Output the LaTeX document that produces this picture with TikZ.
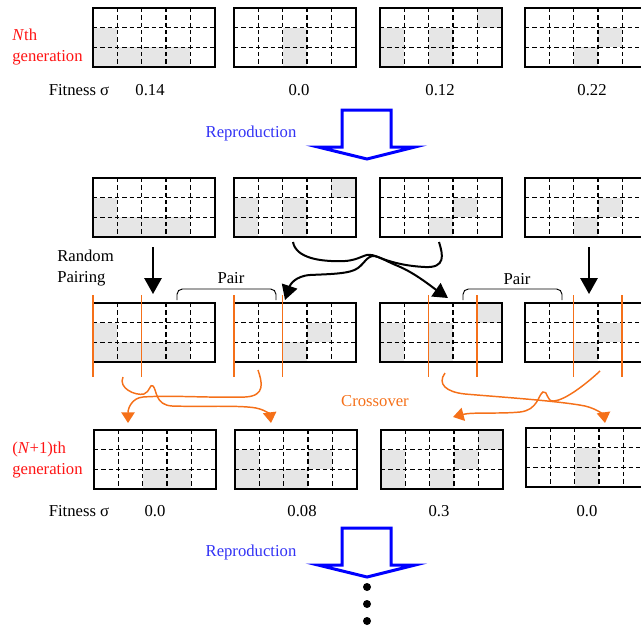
\documentclass[tikz,border=0pt]{standalone}
\usepackage{fontspec}
\setmainfont{Liberation Serif}
\usetikzlibrary{arrows.meta}

\definecolor{cellgray}{RGB}{230,230,230}
\definecolor{xorange}{RGB}{245,112,25}
\definecolor{genred}{RGB}{255,20,20}
\definecolor{repblue}{RGB}{50,50,245}

\tikzset{
  chrom/.style={draw,line width=1.5pt,inner sep=0pt,outer sep=0pt,
    minimum width=91.125pt,minimum height=44.25pt,anchor=north west},
  gene/.style={line width=1pt,dash pattern=on 3.2pt off 2.3pt},
  cut/.style={xorange,line width=1.1pt},
  pairing/.style={line width=1.5pt,-{Triangle[length=12pt,width=13pt]}},
  swap/.style={line width=1.5pt,-{Triangle[length=11pt,width=12pt]}},
  cross/.style={xorange,line width=1.1pt,-{Triangle[length=8pt,width=10pt]}},
  bracket/.style={line width=0.7pt,rounded corners=4pt},
  reparrow/.style={blue,line width=2.25pt,line join=miter},
  genlabel/.style={text=genred,anchor=west,align=left,inner sep=0pt},
  reptext/.style={text=repblue},
  crosstext/.style={text=xorange}
}

\providecommand{\Chrom}[3]{
\begin{scope}[shift={(#2)}]
\foreach \cx/\ry in {#3}
  \fill[cellgray] ({(\cx-1)*24.3},{(\ry-1)*19.67}) rectangle +(24.3,19.67);
\foreach \i in {1,...,4}
  \draw[gene] ({\i*24.3},0) -- ({\i*24.3},59);
\foreach \j in {1,2}
  \draw[gene] (0,{\j*19.67}) -- (121.5,{\j*19.67});
\node[chrom] (#1) at (0,0) {};
\end{scope}
}
\providecommand{\Reproduce}[1]{
\draw[reparrow] ([shift={(-25,-49)}]#1) -- ++(49,0) -- ++(0,37) -- ++(24,0)
  -- (#1) -- ++(-49,-12) -- ++(24,0) -- cycle;
}

\begin{document}
\begin{tikzpicture}[x=0.75pt,y=-0.75pt,font=\fontsize{12.5}{15.5}\selectfont]
\useasboundingbox (0,0) rectangle (641,626);
\clip (0,0) rectangle (641,626);

% Nth generation
\Chrom{g11}{93,8}{1/2,1/3,2/3,3/3,4/3}
\Chrom{g12}{234,8}{3/2,3/3}
\Chrom{g13}{380,8}{5/1,1/2,3/2,1/3,3/3}
\Chrom{g14}{525,8}{4/2,3/3}
\node[genlabel] (gen1) at (12,47) {\textit{N}th\\generation};
\node (fit1) at (79,90) {Fitness σ};
\node (f11) at (150,90) {0.14};
\node (f12) at (299,90) {0.0};
\node (f13) at (440,90) {0.12};
\node (f14) at (592,90) {0.22};

\node[reptext] (rep1) at (251,133) {Reproduction};
\Reproduce{367,159}

% after reproduction
\Chrom{g21}{93,178}{1/2,1/3,2/3,3/3,4/3}
\Chrom{g22}{234,178}{5/1,1/2,3/2,1/3,3/3}
\Chrom{g23}{380,178}{4/2,3/3}
\Chrom{g24}{525,178}{4/2,3/3}
\node[anchor=west,align=left,inner sep=0pt] (pairing) at (57,268) {Random\\Pairing};

% pairs with cut points
\Chrom{g31}{93,303}{1/2,1/3,2/3,3/3,4/3}
\Chrom{g32}{234,303}{4/2,3/3}
\Chrom{g33}{380,303}{5/1,1/2,3/2,1/3,3/3}
\Chrom{g34}{525,303}{4/2,3/3}
\foreach \g/\a/\b in {g31/0/2,g32/0/2,g33/2/4,g34/2/4}{
  \draw[cut] ([shift={({\a*24.3},-8)}]\g.north west) -- ([shift={({\a*24.3},15)}]\g.south west);
  \draw[cut] ([shift={({\b*24.3},-8)}]\g.north west) -- ([shift={({\b*24.3},15)}]\g.south west);
}
\draw[bracket] (177,300) -- (177,289) -- (276,289) -- (276,300);
\node (pair1) at (231,278) {Pair};
\draw[bracket] (463,300) -- (463,289) -- (562,289) -- (562,300);
\node (pair2) at (517,279) {Pair};

% (N+1)th generation
\Chrom{g41}{94,430}{3/3,4/3}
\Chrom{g42}{235,430}{1/2,4/2,1/3,2/3,3/3}
\Chrom{g43}{381,430}{5/1,1/2,4/2,1/3,3/3}
\Chrom{g44}{526,428}{3/2,3/3}
\node[genlabel] (gen2) at (12,460) {(\textit{N}+1)th\\generation};
\node (fit2) at (79,511) {Fitness σ};
\node (f41) at (155,511) {0.0};
\node (f42) at (302,511) {0.08};
\node (f43) at (439,511) {0.3};
\node (f44) at (587,511) {0.0};

% random pairing
\draw[pairing] ([shift={(60,10)}]g21.south west) -- ([shift={(60,-9)}]g31.north west);
\draw[pairing] ([shift={(64,10)}]g24.south west) -- ([shift={(64,-9)}]g34.north west);
\draw[swap] ([shift={(59,5)}]g22.south west) .. controls (296,258) and (320,262) .. (345,261)
  .. controls (360,260) and (365,253) .. (372,255) .. controls (380,257) and (388,262) .. (398,266)
  .. controls (415,273) and (432,287) .. ([shift={(68,-5)}]g33.north west);
\draw[swap] ([shift={(59,5)}]g23.south west) .. controls (443,255) and (446,268) .. (425,267)
  .. controls (405,266) and (390,262) .. (378,257) .. controls (368,253) and (366,262) .. (358,268)
  .. controls (350,274) and (330,274) .. (310,275) .. controls (295,276) and (290,285) .. ([shift={(51,-3)}]g32.north west);

% crossover
\draw[cross] ([shift={(30,15)}]g31.south west) .. controls (118,388) and (135,396) .. (144,394)
  .. controls (150,392) and (150,383) .. (153,386) .. controls (157,390) and (155,405) .. (172,406)
  .. controls (200,407) and (240,405) .. (256,408) .. controls (266,410) and (270,415) .. ([shift={(36,-7)}]g42.north west);
\draw[cross] ([shift={(24,8)}]g32.south west) .. controls (262,382) and (266,396) .. (245,397)
  .. controls (210,398) and (170,395) .. (143,397) .. controls (132,398) and (128,408) .. ([shift={(34,-7)}]g41.north west);
\draw[cross] ([shift={(65,11)}]g33.south west) .. controls (437,384) and (446,392) .. (465,394)
  .. controls (500,397) and (560,401) .. (585,406) .. controls (598,409) and (604,416) .. ([shift={(79,-5)}]g44.north west);
\draw[cross] ([shift={(75,9)}]g34.south west) .. controls (585,385) and (565,400) .. (554,401)
  .. controls (546,402) and (548,390) .. (543,392) .. controls (538,395) and (538,410) .. (520,412)
  .. controls (500,414) and (472,412) .. ([shift={(72,-13)}]g43.north west);
\node[crosstext] (xover) at (375,401) {Crossover};

\node[reptext] (rep2) at (251,552) {Reproduction};
\Reproduce{367,577}
\foreach \y in {587,604,621}
  \fill (367,\y) circle (3pt);
\end{tikzpicture}
\end{document}
